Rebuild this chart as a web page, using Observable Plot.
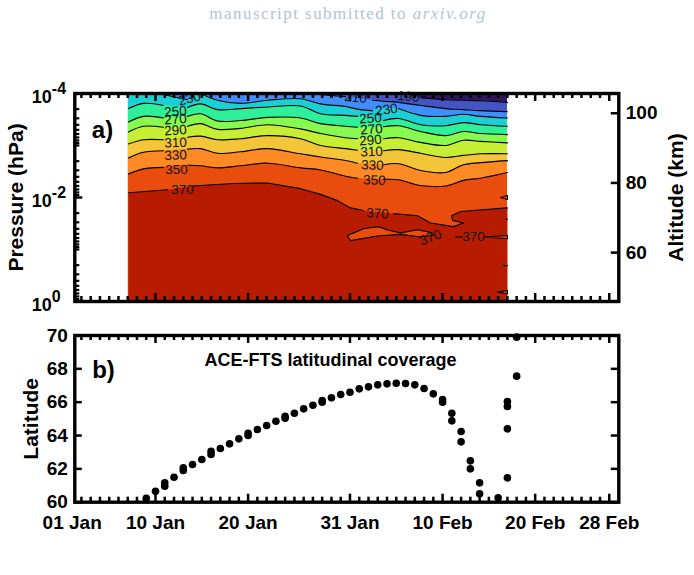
<!DOCTYPE html>
<html><head><meta charset="utf-8">
<script src="https://cdn.jsdelivr.net/npm/d3@7"></script>
<script src="https://cdn.jsdelivr.net/npm/@observablehq/plot@0.6"></script>
<style>
html,body{margin:0;padding:0;background:#fff}
#page{position:relative;width:694px;height:575px;overflow:hidden}
#head{position:absolute;top:4px;left:0;width:694px;margin-left:1px;text-align:center;color:#b4c3d0;font:17px "Liberation Serif",serif;letter-spacing:1.45px}
#a,#b{position:absolute;left:0}
#a{top:0}#b{top:320px}
</style></head><body>
<div id="page">
<div id="head">manuscript submitted to <i>arxiv.org</i></div>
<div id="a"></div><div id="b"></div>
</div>
<script>
// Panel a: contour grid (day of year, log10 pressure of each temperature contour)
const gridDays=[7.08,8.70,10.86,13.46,14.86,16.70,19.18,22.10,25.66,27.82,30.52,31.81,33.43,34.62,36.24,38.62,41.32,43.26,45.10,48.01];
const t190=[-4.1,-4.1,-4.1,-4.1,-4.1,-4.1,-4.1,-4.1,-4.1,-4.1,-4.1,-4.1,-4.1,-4.06,-4.00,-3.92,-3.88,-3.87,-3.86,-3.83];
const t210=[-4.1,-4.1,-4.1,-4.1,-4.1,-4.1,-4.1,-4.1,-4.04,-3.98,-3.94,-3.90,-3.87,-3.85,-3.83,-3.77,-3.71,-3.69,-3.67,-3.65];
const t230=[-4.10,-4.08,-3.98,-3.88,-4.00,-3.87,-3.81,-3.87,-3.90,-3.80,-3.75,-3.70,-3.67,-3.71,-3.71,-3.58,-3.56,-3.60,-3.56,-3.53];
const t250=[-3.71,-3.81,-3.77,-3.73,-3.80,-3.69,-3.71,-3.74,-3.76,-3.61,-3.58,-3.56,-3.52,-3.48,-3.52,-3.40,-3.38,-3.44,-3.40,-3.37];
const t270=[-3.45,-3.56,-3.53,-3.56,-3.61,-3.47,-3.48,-3.54,-3.53,-3.42,-3.37,-3.35,-3.35,-3.36,-3.38,-3.27,-3.19,-3.27,-3.23,-3.21];
const t290=[-3.26,-3.37,-3.35,-3.37,-3.42,-3.31,-3.33,-3.40,-3.32,-3.23,-3.15,-3.13,-3.13,-3.13,-3.15,-3.06,-3.00,-3.10,-3.08,-3.05];
const t310=[-3.03,-3.11,-3.11,-3.16,-3.18,-3.11,-3.13,-3.19,-3.13,-3.00,-2.94,-2.91,-2.90,-2.90,-2.92,-2.85,-2.77,-2.81,-2.84,-2.84];
const t330=[-2.76,-2.87,-2.90,-2.93,-2.94,-2.85,-2.88,-2.94,-2.84,-2.78,-2.71,-2.66,-2.64,-2.63,-2.65,-2.52,-2.48,-2.63,-2.67,-2.71];
const t350=[-2.45,-2.55,-2.58,-2.62,-2.61,-2.57,-2.61,-2.66,-2.57,-2.53,-2.41,-2.37,-2.35,-2.35,-2.34,-2.23,-2.22,-2.33,-2.37,-2.48];
// the 370 contour folds back on itself, so it has its own abscissae
const days370=[7.08,11.30,14.00,14.86,18.42,22.10,25.66,27.82,29.65,31.06,32.46,35.70,38.29,39.70,42.18,43.26,42.07,41.96,42.94,48.01];
const t370=[-2.09,-2.15,-2.22,-2.23,-2.27,-2.28,-2.17,-2.06,-1.94,-1.80,-1.75,-1.69,-1.65,-1.51,-1.44,-1.51,-1.56,-1.65,-1.73,-1.80];
// warmer-than-370 pockets
const islandDays=[30.73,31.27,32.46,34.08,35.16,36.46,38.29,39.70,40.02,38.62,36.46,33.97,31.06];
const islandExp=[-1.27,-1.31,-1.40,-1.44,-1.37,-1.32,-1.38,-1.33,-1.28,-1.24,-1.29,-1.26,-1.17];
const sliverDays=[45.53,48.01,48.01];const sliverExp=[-1.24,-1.27,-1.21];
const stubDays=[42.40,43.15];const stubExp=[-1.24,-1.24];
const topWedgeDays=[47.26,48.01,48.01];const topWedgeExp=[-2.00,-2.04,-1.96];
const lowWedgeDays=[46.93,48.01,48.01];const lowWedgeExp=[-0.18,-0.21,-0.15];
const edgeA=[47.8,48.01];const edgeAExp=[-1.58,-1.58];
const edgeB=[47.6,48.01];const edgeBExp=[-0.69,-0.69];

const levels=[190,210,230,250,270,290,310,330,350];
const levelValues=[t190,t210,t230,t250,t270,t290,t310,t330,t350];
const bandColors=["#32155f","#4454c4","#3f8efb","#1bcfd4","#2ef09a","#86fa4e","#c5ee35","#f3c63a","#fd8a25","#e84d0d","#b71c01"];
// day ranges where a contour is interrupted by its label
const gaps=[[[36.24,38.62]],[[30.52,33.43]],[[13.46,14.86],[33.43,36.24]],[[10.86,13.46],[31.81,34.62]],[[10.86,13.46],[31.81,34.62]],[[10.86,13.46],[31.81,34.62]],[[10.86,13.46],[31.81,34.62]],[[10.86,13.46],[31.81,34.62]],[[10.86,13.46],[31.81,34.62]]];
const gaps370=[[11.30,14.00],[32.46,35.70]];

const labelText=["230","250","270","290","310","330","350","370","190","210","230","250","270","290","310","330","350","370","370","370"];
const labelDay=[13.67,12.16,12.16,12.16,12.16,12.16,12.27,12.92,37.32,31.60,34.95,33.22,33.33,33.22,33.33,33.43,33.65,33.97,39.70,44.34];
const labelExp=[-3.90,-3.65,-3.50,-3.29,-3.05,-2.81,-2.53,-2.15,-3.94,-3.92,-3.69,-3.52,-3.31,-3.10,-2.88,-2.62,-2.33,-1.69,-1.23,-1.24];
const labelRot=[-15,-4,-4,-4,-2,-2,0,0,5,5,-8,-4,-4,-4,-2,2,2,3,-20,0];

// Panel b: ACE-FTS latitude per day
const latDay=[9,10,11,11,12,13,13,14,15,16,16,17,18,19,20,20,21,22,23,24,24,25,26,27,28,28,29,30,31,32,33,34,35,36,37,38,39,40,41,41,42,42,43,43,44,44,45,45,47,48,48,48,48,49,49];
const latVal=[60.24,60.66,60.96,61.16,61.5,61.9,62.06,62.26,62.56,62.86,63.06,63.22,63.5,63.8,64.0,64.14,64.36,64.6,64.86,65.04,65.16,65.34,65.6,65.82,66.0,66.1,66.26,66.46,66.6,66.8,66.92,67.04,67.1,67.14,67.12,67.04,66.82,66.5,66.16,66.0,65.34,64.88,64.24,63.62,62.48,62.0,61.16,60.5,60.26,61.46,64.4,65.74,66.04,67.56,69.9];

// Axes
const dayDomain=[1.285,60.03];
const majorDays=[1,10,20,31,41,51,59];
const majorNames=["01 Jan","10 Jan","20 Jan","31 Jan","10 Feb","20 Feb","28 Feb"];
const minorDays=d3.range(2,60).filter(d=>!majorDays.includes(d));
const pressureExps=[-4,-2,0];
const minorPressure=[-4,-3,-2,-1].flatMap(e=>[1,2,3,4,5,6,7,8,9].map(m=>m*10**e)).filter(p=>!pressureExps.map(e=>10**e).some(q=>Math.abs(q-p)<q*1e-6));
const altitudes=[100,80,60];
const altitudeExps=[-3.62,-2.28,-0.94];
const latTicks=[60,62,64,66,68,70];

const FONT="Liberation Sans";
const W=694;
const frameW=544, Ha=208, Hb=166.7;
const CURVE="catmull-rom";

function xTicks(H){
  const s=2.5;
  return [
    Plot.tickX(minorDays,{x:d=>d,insetBottom:H-5,strokeWidth:s,stroke:"#000"}),
    Plot.tickX(minorDays,{x:d=>d,insetTop:H-5,strokeWidth:s,stroke:"#000"}),
    Plot.tickX(majorDays.slice(1),{x:d=>d,insetBottom:H-8,strokeWidth:s,stroke:"#000"}),
    Plot.tickX(majorDays.slice(1),{x:d=>d,insetTop:H-8,strokeWidth:s,stroke:"#000"})
  ];
}
function polygon(days,exps,color){
  const rows=days.map((d,i)=>({day:d,p:10**exps[i]}));
  return Plot.line(rows,{x:"day",y:"p",fill:color,stroke:"none",clip:true});
}
function closedBelow(days,exps,color){
  const rows=days.map((d,i)=>({day:d,p:10**exps[i]}));
  rows.push({day:days[days.length-1],p:1},{day:days[0],p:1});
  return Plot.line(rows,{x:"day",y:"p",fill:color,stroke:"none",clip:true});
}
function band(days,exps,color){
  const rows=days.map((d,i)=>({day:d,p:10**exps[i]}));
  return Plot.areaY(rows,{x:"day",y1:"p",y2:()=>1,fill:color,curve:CURVE,clip:true});
}
function contour(days,exps,gapList,curve){
  const rows=[];
  days.forEach((d,i)=>{
    if(gapList.some(g=>d>g[0]&&d<g[1]))return;
    const seg=gapList.filter(g=>d>=g[1]).length;
    rows.push({day:d,p:10**exps[i],seg});
  });
  return Plot.line(rows,{x:"day",y:"p",z:"seg",stroke:"#000",strokeWidth:1.1,curve,clip:true});
}
function outline(days,exps,close){
  const rows=days.map((d,i)=>({day:d,p:10**exps[i]}));
  if(close)rows.push(rows[0]);
  return Plot.line(rows,{x:"day",y:"p",stroke:"#000",strokeWidth:1.1,clip:true});
}
const labelRows=labelText.map((t,i)=>({t,day:labelDay[i],p:10**labelExp[i],r:labelRot[i]}));

const plotA=Plot.plot({
  width:W,height:330,marginLeft:74.3,marginRight:W-618.3,marginTop:93,marginBottom:330-301,
  style:{fontFamily:FONT,background:"transparent",overflow:"visible"},
  x:{domain:dayDomain,axis:null},
  y:{type:"log",domain:[1,1e-4],axis:null},
  marks:[
    Plot.rect([0],{x1:gridDays[0],x2:gridDays[19],y1:1,y2:1e-4,fill:bandColors[0],clip:true}),
    ...levelValues.map((v,i)=>band(gridDays,v,bandColors[i+1])),
    closedBelow(days370,t370,bandColors[10]),
    polygon(islandDays,islandExp,bandColors[9]),
    polygon(sliverDays,sliverExp,bandColors[9]),
    polygon(topWedgeDays,topWedgeExp,bandColors[9]),
    polygon(lowWedgeDays,lowWedgeExp,bandColors[9]),
    ...levelValues.map((v,i)=>contour(gridDays,v,gaps[i],CURVE)),
    contour(days370,t370,gaps370,"linear"),
    outline(islandDays,islandExp,true),
    outline(sliverDays,sliverExp,true),
    outline(stubDays,stubExp,false),
    outline(topWedgeDays,topWedgeExp,true),
    outline(lowWedgeDays,lowWedgeExp,true),
    outline(edgeA,edgeAExp,false),
    outline(edgeB,edgeBExp,false),
    Plot.text(labelRows,{x:"day",y:"p",text:"t",rotate:"r",fontSize:13.5,fill:"#111"}),
    ...xTicks(Ha),
    Plot.tickY(minorPressure,{y:d=>d,insetRight:frameW-5,strokeWidth:2.2,stroke:"#000"}),
    Plot.tickY(pressureExps.map(e=>10**e),{y:d=>d,insetRight:frameW-8,strokeWidth:2.5,stroke:"#000"}),
    Plot.tickY(altitudeExps.map(e=>10**e),{y:d=>d,insetLeft:frameW-7.5,strokeWidth:2.5,stroke:"#000"}),
    Plot.frame({stroke:"#000",strokeWidth:3.4}),
    Plot.text(pressureExps,{x:dayDomain[0],y:e=>10**e,text:()=>"10",textAnchor:"end",dx:-23,dy:4,fontSize:18,fontWeight:"bold"}),
    Plot.text(pressureExps,{x:dayDomain[0],y:e=>10**e,text:e=>e===0?"0":String(e),textAnchor:"start",dx:-23,dy:-5,fontSize:16,fontWeight:"bold"}),
    Plot.text(altitudes,{x:dayDomain[1],y:(a,i)=>10**altitudeExps[i],text:String,textAnchor:"start",dx:7,fontSize:19,fontWeight:"bold"}),
    Plot.text(["Pressure (hPa)"],{frameAnchor:"left",textAnchor:"middle",dx:-59,rotate:-90,fontSize:21,fontWeight:"bold"}),
    Plot.text(["Altitude (km)"],{frameAnchor:"right",textAnchor:"middle",dx:57,rotate:-90,fontSize:21,fontWeight:"bold"}),
    Plot.text(["a)"],{x:4.28,y:10**-3.29,fontSize:24,fontWeight:"bold"})
  ]
});
document.getElementById("a").append(plotA);

const latRows=latDay.map((d,i)=>({day:d,lat:latVal[i]}));
const plotB=Plot.plot({
  width:W,height:230,marginLeft:74.3,marginRight:W-618.3,marginTop:15,marginBottom:230-181.7,
  style:{fontFamily:FONT,background:"transparent",overflow:"visible"},
  x:{domain:dayDomain,axis:null},
  y:{domain:[60,70],axis:null},
  marks:[
    ...xTicks(Hb),
    Plot.tickY(latTicks,{y:d=>d,insetRight:frameW-7.5,strokeWidth:2.5,stroke:"#000"}),
    Plot.tickY(latTicks,{y:d=>d,insetLeft:frameW-7.5,strokeWidth:2.5,stroke:"#000"}),
    Plot.frame({stroke:"#000",strokeWidth:3.4}),
    Plot.dot(latRows,{x:"day",y:"lat",r:3.8,fill:"#000",stroke:"none"}),
    Plot.text(latTicks,{x:dayDomain[0],y:d=>d,text:String,textAnchor:"end",dx:-7,fontSize:19,fontWeight:"bold"}),
    Plot.text(majorDays,{x:d=>d,y:60,text:(d,i)=>majorNames[i],dy:21,fontSize:19,fontWeight:"bold"}),
    Plot.text(["Latitude"],{frameAnchor:"left",textAnchor:"middle",dx:-43.5,rotate:-90,fontSize:21,fontWeight:"bold"}),
    Plot.text(["b)"],{x:4.38,y:67.9,fontSize:24,fontWeight:"bold"}),
    Plot.text(["ACE-FTS latitudinal coverage"],{x:28.9,y:68.5,fontSize:18,fontWeight:"bold"})
  ]
});
document.getElementById("b").append(plotB);
</script>
</body></html>
